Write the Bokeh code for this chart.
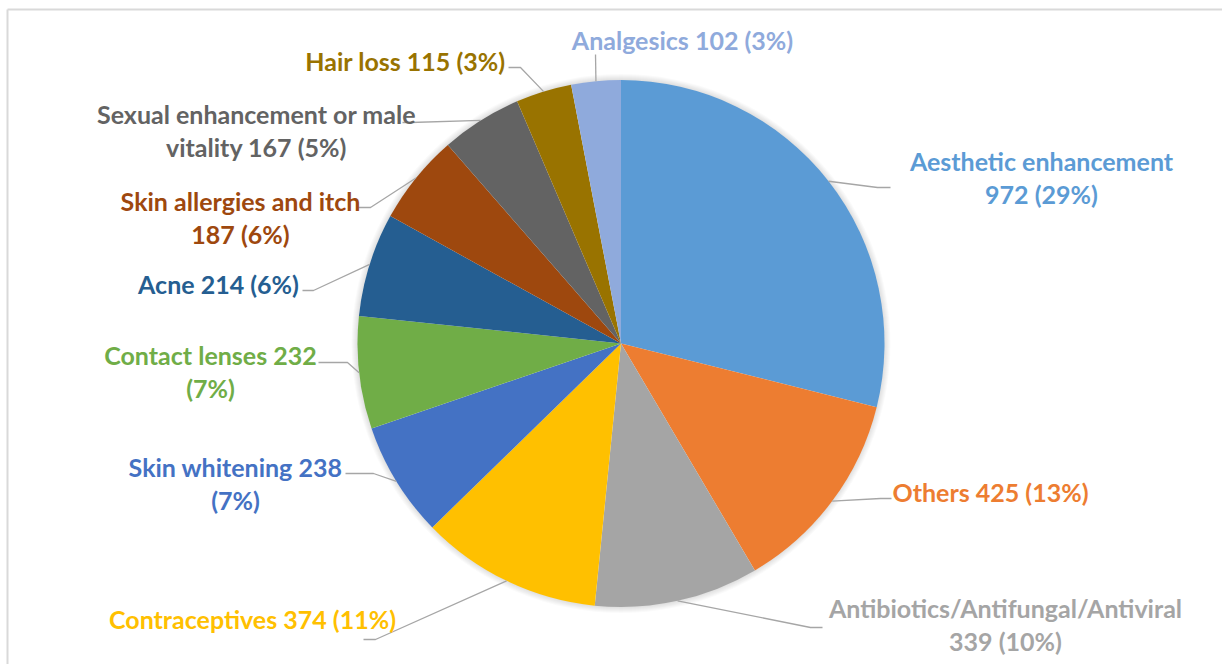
import math
from bokeh.plotting import figure
from bokeh.models import Range1d, ColumnDataSource
from bokeh.core.properties import value
from bokeh.embed import file_html
from bokeh.resources import INLINE

# ---- data ----
categories = ["Aesthetic enhancement", "Others", "Antibiotics/Antifungal/Antiviral",
              "Contraceptives", "Skin whitening", "Contact lenses", "Acne",
              "Skin allergies and itch", "Sexual enhancement or male vitality",
              "Hair loss", "Analgesics"]
counts = [972, 425, 339, 374, 238, 232, 214, 187, 167, 115, 102]
colors = ["#5B9BD5", "#ED7D31", "#A5A5A5", "#FFC000", "#4472C4", "#70AD47",
          "#255E91", "#9E480E", "#636363", "#997300", "#8FAADC"]

# ---- layout (pixels, measured from top-left) ----
W, H = 1222, 664
def dx(sx): return sx
def dy(sy): return H - sy

CX, CY, R = dx(620.5), dy(343), 263.5
# words on first label line (0 = single line)
first_line_words = [2, 0, 1, 0, 3, 3, 0, 4, 4, 0, 0]
# label centre x, first-line centre y
label_pos = [(1041, 160), (990, 491), (1005, 607), (252, 618), (235, 466),
             (210, 354), (218, 283), (240, 200), (256, 113), (405, 60), (682, 39)]
LINE_GAP = 33
# leader line: label-side end and elbow
leader_pts = [((890, 187), (877, 187)), ((891, 498), (880, 498)),
              ((822, 627), (810, 627)), ((363, 639), (375, 639)),
              ((345, 473), (373, 473)), ((318, 362), (347, 362)),
              ((302, 290), (313, 290)), ((358, 207), (370, 207)),
              ((402, 122), (410, 122)), ((508, 67), (520, 67)),
              ((595, 54), (595, 54))]

total = sum(counts)
starts, ends, mids = [], [], []
cum = 0
for c in counts:
    a0 = math.pi / 2 - 2 * math.pi * cum / total
    cum += c
    a1 = math.pi / 2 - 2 * math.pi * cum / total
    starts.append(a1)
    ends.append(a0)
    mids.append((a0 + a1) / 2)

p = figure(width=W, height=H, x_range=Range1d(0, W), y_range=Range1d(0, H),
           x_axis_type=None, y_axis_type=None, toolbar_location=None,
           output_backend="svg", min_border=0)
p.outline_line_color = None
p.grid.visible = False
p.background_fill_color = "white"
p.border_fill_color = "white"

# chart border (top and left visible)
p.segment(x0=[dx(7), dx(7)], y0=[0, dy(9)], x1=[dx(7), W], y1=[dy(9), dy(9)],
          line_color="#D9D9D9", line_width=2)

# soft shadow
for k in range(1, 7):
    p.annulus(x=[CX], y=[CY], inner_radius=R - 1, outer_radius=R + k,
              fill_color="black", fill_alpha=0.018, line_color=None)

src = ColumnDataSource(dict(cat=categories, cnt=counts, color=colors,
                            start=starts, end=ends))
p.wedge(x=CX, y=CY, radius=R, start_angle="start", end_angle="end",
        fill_color="color", line_color=None, source=src)

# leader lines
xs, ys = [], []
for (end_pt, elbow), m in zip(leader_pts, mids):
    ex = CX + R * math.cos(m)
    ey = CY + R * math.sin(m)
    xs.append([dx(end_pt[0]), dx(elbow[0]), ex])
    ys.append([dy(end_pt[1]), dy(elbow[1]), ey])
p.multi_line(xs=xs, ys=ys, line_color="#A6A6A6", line_width=1.3)

# labels
tx, ty, tt, tc = [], [], [], []
for cat, cnt, col, nw, (lx, ly) in zip(categories, counts, colors, first_line_words, label_pos):
    pct = round(cnt / total * 100)
    words = f"{cat} {cnt} ({pct}%)".split(" ")
    lines = [" ".join(words)] if nw == 0 else [" ".join(words[:nw]), " ".join(words[nw:])]
    for i, ln in enumerate(lines):
        tx.append(dx(lx)); ty.append(dy(ly + i * LINE_GAP)); tt.append(ln); tc.append(col)
p.text(x=tx, y=ty, text=tt, text_color=tc, text_align="center", text_baseline="middle",
       text_font=value("Lato"), text_font_style="bold", text_font_size="25px")

open("out.html", "w").write(file_html(p, INLINE))
